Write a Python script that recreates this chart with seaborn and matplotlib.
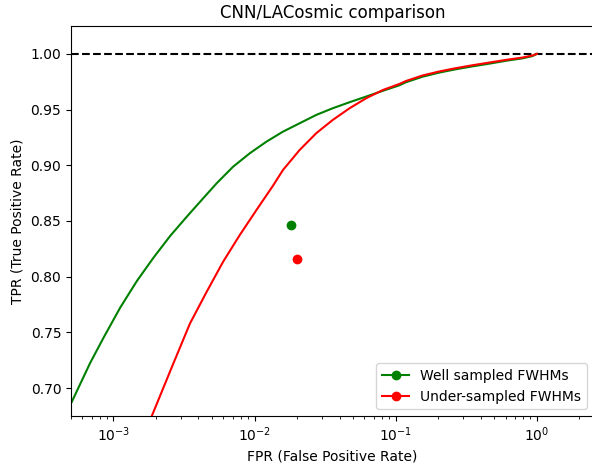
import numpy as np
import pandas as pd
import seaborn as sns
import matplotlib
matplotlib.use("Agg")
import matplotlib.pyplot as plt

# ROC curves
fpr_well = [5.02e-4, 6.84e-4, 8.49e-4, 1.114e-3, 1.462e-3, 1.919e-3, 2.518e-3,
            3.304e-3, 4.11e-3, 5.38e-3, 7.05e-3, 9.25e-3, 1.213e-2, 1.589e-2,
            2.084e-2, 2.735e-2, 3.58e-2, 4.71e-2, 6.18e-2, 8.09e-2, 0.1062,
            0.118, 0.1549, 0.2037, 0.2673, 0.3508, 0.4603, 0.6053, 0.7925,
            0.931, 1.0]
tpr_well = [0.6867, 0.7227, 0.7451, 0.7721, 0.7960, 0.8170, 0.8365,
            0.8538, 0.8673, 0.8838, 0.8988, 0.9108, 0.9212, 0.9302,
            0.9377, 0.9452, 0.9512, 0.9566, 0.9617, 0.9668, 0.9718,
            0.9745, 0.9795, 0.9832, 0.9862, 0.9888, 0.9912, 0.9938, 0.9960,
            0.9980, 1.0]

fpr_under = [1.866e-3, 2.655e-3, 3.483e-3, 4.571e-3, 5.98e-3, 7.85e-3,
             1.03e-2, 1.352e-2, 1.589e-2, 2.084e-2, 2.735e-2, 3.58e-2,
             4.71e-2, 6.18e-2, 8.09e-2, 0.1062, 0.118, 0.1549, 0.2037,
             0.2673, 0.3508, 0.4603, 0.6053, 0.7925, 0.931, 1.0]
tpr_under = [0.6748, 0.7221, 0.7580, 0.7864, 0.8134, 0.8374,
             0.8598, 0.8818, 0.8958, 0.9137, 0.9288, 0.9407,
             0.9512, 0.9602, 0.9675, 0.9730, 0.9756, 0.9806, 0.9842,
             0.9872, 0.9898, 0.9922, 0.9946, 0.9967, 0.9985, 1.0]

# LACosmic operating points
lac_fpr = [0.0182, 0.0199]
lac_tpr = [0.8464, 0.8155]
labels = ["Well sampled FWHMs", "Under-sampled FWHMs"]
colors = ["green", "red"]

fig = plt.figure(figsize=(5.92, 4.68), dpi=100)
ax = fig.add_axes([71 / 592, 52 / 468, 523 / 592, 390 / 468])

ax.axhline(1.0, color="black", linestyle="--", linewidth=1.5)

sns.lineplot(x=fpr_well, y=tpr_well, color=colors[0], sort=False,
             estimator=None, linewidth=1.5, ax=ax)
sns.lineplot(x=fpr_under, y=tpr_under, color=colors[1], sort=False,
             estimator=None, linewidth=1.5, ax=ax)

for fx, ty, lab, c in zip(lac_fpr, lac_tpr, labels, colors):
    ax.plot([fx], [ty], marker="o", linestyle="-", color=c, label=lab)

ax.set_xscale("log")
ax.set_xlim(5e-4, 10 ** 0.405)
ax.set_ylim(0.675, 1.025)
ax.set_yticks([0.70, 0.75, 0.80, 0.85, 0.90, 0.95, 1.00])
ax.set_xlabel("FPR (False Positive Rate)")
ax.set_ylabel("TPR (True Positive Rate)")
ax.set_title("CNN/LACosmic comparison")
ax.legend(loc="lower right")

fig.savefig("out.png", dpi=100)
